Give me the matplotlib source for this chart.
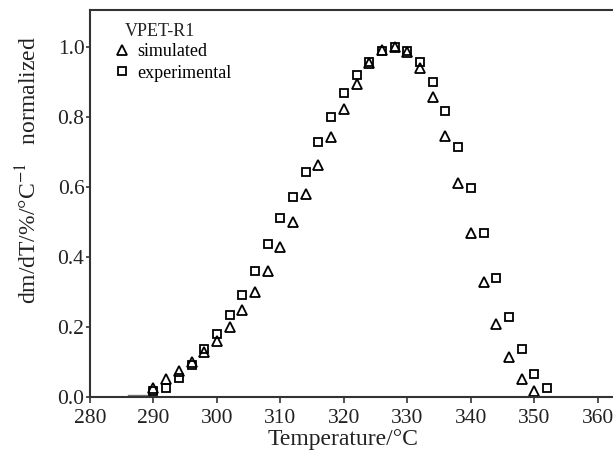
import matplotlib
matplotlib.use("Agg")
import matplotlib.pyplot as plt

plt.rcParams['font.family'] = ['Liberation Serif', 'DejaVu Serif']
plt.rcParams['mathtext.fontset'] = 'stix'

sim_T = [290, 292, 294, 296, 298, 300, 302, 304, 306, 308, 310, 312, 314, 316,
         318, 320, 322, 324, 326, 328, 330, 332, 334, 336, 338, 340, 342, 344,
         346, 348, 350]
sim_v = [0.025, 0.052, 0.073, 0.099, 0.127, 0.16, 0.2, 0.248, 0.3, 0.36, 0.427,
         0.498, 0.579, 0.662, 0.743, 0.823, 0.893, 0.953, 0.99, 1.0, 0.985,
         0.938, 0.857, 0.745, 0.611, 0.468, 0.329, 0.207, 0.113, 0.05, 0.016]

exp_T = [290, 292, 294, 296, 298, 300, 302, 304, 306, 308, 310, 312, 314, 316,
         318, 320, 322, 324, 326, 328, 330, 332, 334, 336, 338, 340, 342, 344,
         346, 348, 350, 352]
exp_v = [0.015, 0.025, 0.053, 0.092, 0.135, 0.18, 0.233, 0.29, 0.36, 0.436,
         0.51, 0.571, 0.643, 0.729, 0.8, 0.867, 0.918, 0.957, 0.988, 0.998,
         0.988, 0.957, 0.9, 0.815, 0.714, 0.597, 0.468, 0.34, 0.228, 0.135,
         0.066, 0.024]

tail_T = [286, 289.5]
tail_v = [0.004, 0.004]

xticks = [280, 290, 300, 310, 320, 330, 340, 350, 360]
yticks = [0.0, 0.2, 0.4, 0.6, 0.8, 1.0]

W, H = 613, 450
AX_H = 396.7 - 10
fig = plt.figure(figsize=(W / 100, H / 100), dpi=100)
ax = fig.add_axes([90 / W, 1 - 396.7 / H, 1 - 90 / W, AX_H / H])

ax.plot(tail_T, tail_v, color='#777777', lw=1.0)
ax.plot(sim_T, sim_v, linestyle='none', marker='^', markersize=6.5,
        markerfacecolor='none', markeredgecolor='black', markeredgewidth=1.3,
        label='simulated')
ax.plot(exp_T, exp_v, linestyle='none', marker='s', markersize=5.8,
        markerfacecolor='none', markeredgecolor='black', markeredgewidth=1.3,
        label='experimental')

ax.set_xlim(280, 362.4)
ax.set_ylim(0, 1.105)
ax.set_xticks(xticks)
ax.set_yticks(yticks)
ax.set_yticklabels([f"{t:.1f}" for t in yticks])

for s in ['left', 'bottom', 'top']:
    ax.spines[s].set_linewidth(1.5)
    ax.spines[s].set_color('#333333')
ax.spines['right'].set_visible(False)
ax.tick_params(direction='out', width=1.2, labelsize=15.5,
               colors='#333333', labelcolor='#222222')
ax.tick_params(axis='x', length=4, pad=5)
ax.tick_params(axis='y', length=3, pad=1)

ax.set_xlabel('Temperature/°C', fontsize=17, color='#222222')
ax.xaxis.set_label_coords((343 - 90) / (W - 90), -(445 - 396.7) / AX_H)
ax.xaxis.label.set_va('baseline')
ax.set_ylabel('dm/dT/%/°C$^{-1}$   normalized', fontsize=17, color='#222222')
ax.yaxis.set_label_coords(-(90 - 29) / (W - 90), (396.7 - 170) / AX_H)
ax.yaxis.label.set_va('center')

leg = fig.legend(loc='upper left', frameon=False, fontsize=13,
                 handlelength=1.0, handletextpad=0.35, borderpad=0,
                 borderaxespad=0, labelspacing=0.25,
                 bbox_to_anchor=(113 / W, 1 - 43 / H))
fig.text(125 / W, 1 - 31.5 / H, 'VPET-R1', fontsize=13, color='#222222',
         ha='left', va='center')

fig.savefig('out.png', dpi=100)
